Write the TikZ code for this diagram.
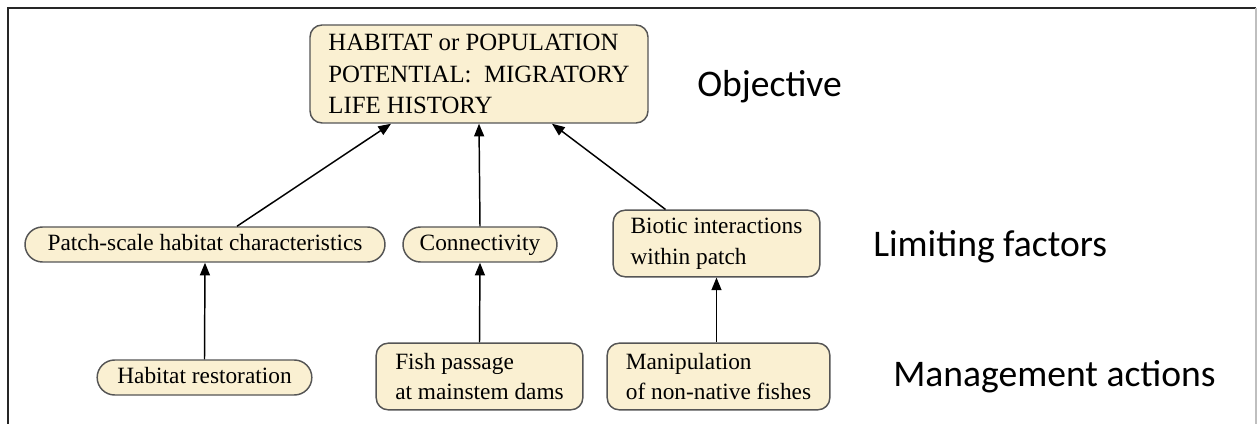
\documentclass[tikz,border=0pt]{standalone}
\usepackage{fontspec}
\setmainfont{Liberation Serif}
\newfontfamily\lblfont{Carlito}
\usetikzlibrary{arrows.meta,calc,shapes.misc}
\definecolor{boxfill}{RGB}{250,240,210}
\definecolor{boxline}{RGB}{85,85,85}
\tikzset{
  nodebase/.style={draw=boxline, fill=boxfill, line width=1.1pt, font=\fontsize{17.5pt}{23pt}\selectfont, inner sep=0pt},
  pill/.style={nodebase, rounded rectangle, align=center, text height=12pt, text depth=3.5pt},
  rbox/.style={nodebase, rounded corners=9pt, align=left},
  arr/.style={line width=1.1pt, -{Triangle[length=9.5pt,width=7.5pt]}},
  lvl/.style={font=\lblfont\fontsize{28.2pt}{32pt}\selectfont, anchor=base west, inner sep=0pt}
}
\begin{document}
\begin{tikzpicture}[x=0.75pt,y=-0.75pt]
\useasboundingbox (0,0) rectangle (1258,424);
% frame
\draw[line width=2.2pt, black!85] (8,426) -- (8,8) -- (1256,8);
\draw[line width=0.8pt, black!25] (1256,8) -- (1256,426);

% nodes
\node[rbox, minimum width=253.5pt, minimum height=73.5pt,
      font=\fontsize{18.6pt}{23.5pt}\selectfont] (top) at (479,74)
  {HABITAT or POPULATION\\POTENTIAL:\ \ MIGRATORY\\LIFE HISTORY};
\node[pill, minimum width=270pt, minimum height=26.25pt] (patch) at (205,244.5)
  {Patch-scale habitat characteristics};
\node[pill, minimum width=115.5pt, minimum height=26.25pt] (conn) at (480,244.5)
  {Connectivity};
\node[rbox, minimum width=155pt, minimum height=50pt] (biotic) at (716.5,243.5)
  {Biotic interactions\\within patch};
\node[pill, minimum width=161pt, minimum height=26.25pt] (hr) at (204.5,377.5)
  {Habitat restoration};
\node[rbox, minimum width=155pt, minimum height=50pt] (fish) at (479.5,376.5)
  {Fish passage\\at mainstem dams};
\node[rbox, minimum width=167pt, minimum height=50pt] (manip) at (718.5,376.5)
  {Manipulation\\of non-native fishes};

% level labels
\node[lvl] (obj) at (697,97) {Objective};
\node[lvl] (lim) at (873,257) {Limiting factors};
\node[lvl] (man) at (893,387) {Management actions};

% connectors
\draw[arr] (hr.north) -- (patch.south);
\draw[arr] (fish.north) -- (conn.south);
\draw[arr] (manip.north -| biotic.south) -- (biotic.south);
\draw[arr] (conn.north) -- (top.south);
\draw[arr] ($(patch.north)+(32,0)$) -- ($(top.south)+(-88,0)$);
\draw[arr] ($(biotic.north)+(-51,0)$) -- ($(top.south)+(73,0)$);
\end{tikzpicture}
\end{document}
